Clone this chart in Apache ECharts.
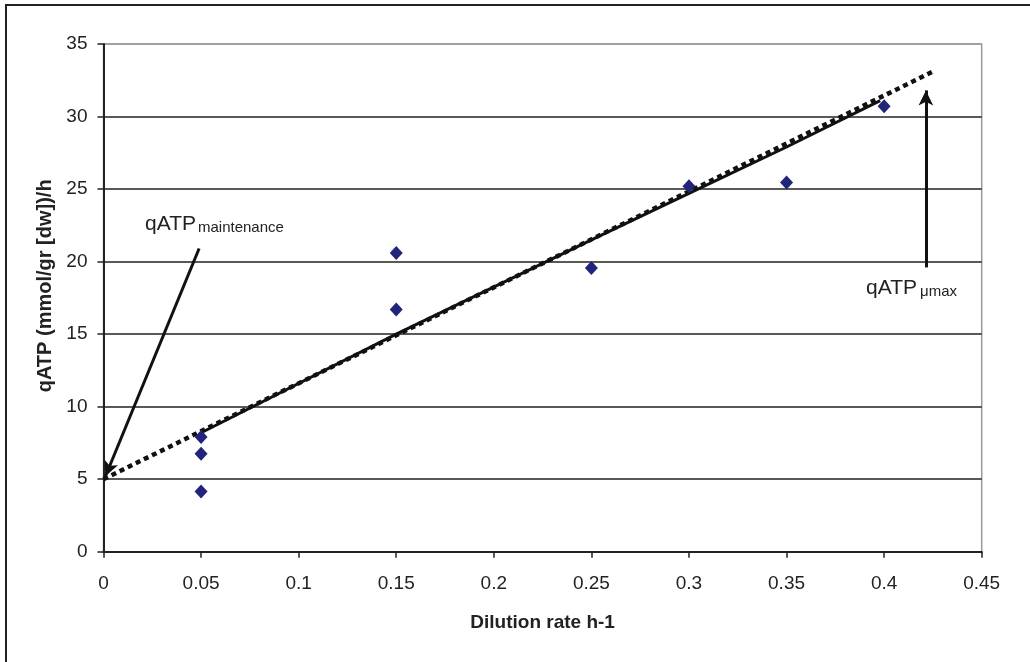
<!DOCTYPE html>
<html>
<head>
<meta charset="utf-8">
<script src="https://cdn.jsdelivr.net/npm/echarts@6/dist/echarts.min.js"></script>
<style>
html,body{margin:0;padding:0;background:#fff;}
#c{width:1030px;height:662px;}
</style>
</head>
<body>
<div id="c"></div>
<script>
// Measured data points (dilution rate h-1, qATP)
const dilutionX = [0.05, 0.05, 0.05, 0.15, 0.15, 0.25, 0.30, 0.35, 0.40];
const qatpY = [7.9, 6.75, 4.15, 20.6, 16.7, 19.55, 25.2, 25.45, 30.7];

// Solid model line
const modelX = [0.05, 0.15, 0.25, 0.30, 0.35, 0.398];
const modelY = [8.2, 15.0, 21.5, 24.7, 27.9, 31.1];

// Dotted extrapolation line
const extrapX = [0, 0.425];
const extrapY = [5.0, 33.1];

// Arrow annotations [start, end]
const arrowMaint = [[0.049, 20.9], [0.001, 5.2]];
const arrowMuMax = [[0.4214, 19.6], [0.4214, 31.8]];

// Axis ticks
const xTicks = [0, 0.05, 0.1, 0.15, 0.2, 0.25, 0.3, 0.35, 0.4, 0.45];
const yTicks = [0, 5, 10, 15, 20, 25, 30, 35];

const chart = echarts.init(document.getElementById('c'));
const font = 'Liberation Sans, Arial, sans-serif';

const gridColors = yTicks.map((v, i) => i === yTicks.length - 1 ? '#9a9a9a' : '#222');

chart.setOption({
  animation: false,
  backgroundColor: '#fff',
  grid: {left: 103.5, right: 48.3, top: 44, bottom: 110.3, show: true, borderColor: '#9a9a9a', borderWidth: 1.5, backgroundColor: 'transparent'},
  xAxis: {
    type: 'value', min: xTicks[0], max: xTicks[xTicks.length-1], interval: 0.05,
    name: 'Dilution rate h-1', nameLocation: 'middle', nameGap: 62,
    nameTextStyle: {fontFamily: font, fontSize: 19, fontWeight: 'bold', color: '#222'},
    axisLine: {show: true, onZero: false, lineStyle: {color: '#222', width: 2}},
    axisTick: {show: true, length: 6, lineStyle: {color: '#222', width: 1.5}},
    axisLabel: {fontFamily: font, fontSize: 19, color: '#222', margin: 23,
      formatter: v => String(parseFloat(v.toFixed(2)))},
    splitLine: {show: false}
  },
  yAxis: {
    type: 'value', min: yTicks[0], max: yTicks[yTicks.length-1], interval: 5,
    name: 'qATP (mmol/gr [dw])/h', nameLocation: 'middle', nameGap: 41,
    nameTextStyle: {fontFamily: font, fontSize: 20, fontWeight: 'bold', color: '#222', padding: [0, 0, 0, 24]},
    axisLine: {show: true, lineStyle: {color: '#222', width: 2}},
    axisTick: {show: true, length: 6, lineStyle: {color: '#222', width: 1.5}},
    axisLabel: {fontFamily: font, fontSize: 19, color: '#222', margin: 16},
    splitLine: {show: true, lineStyle: {color: gridColors, width: 1.5}}
  },
  series: [
    {
      type: 'line', name: 'extrapolation',
      data: extrapX.map((x, i) => [x, extrapY[i]]),
      showSymbol: false, symbol: 'none',
      lineStyle: {color: '#111', width: 4.5, type: [5, 4]},
      z: 3
    },
    {
      type: 'line', name: 'model',
      data: modelX.map((x, i) => [x, modelY[i]]),
      showSymbol: false, symbol: 'none',
      lineStyle: {color: '#111', width: 3},
      z: 4,
      markLine: {
        silent: true, animation: false,
        symbol: ['none', 'arrow'], symbolSize: [11, 15],
        lineStyle: {color: '#111', width: 3, type: 'solid'},
        label: {show: false},
        data: [
          [{coord: arrowMaint[0]}, {coord: arrowMaint[1]}],
          [{coord: arrowMuMax[0]}, {coord: arrowMuMax[1]}]
        ]
      }
    },
    {
      type: 'scatter', name: 'measured',
      data: dilutionX.map((x, i) => [x, qatpY[i]]),
      symbol: 'diamond', symbolSize: [13, 14],
      itemStyle: {color: '#22237a', opacity: 1},
      z: 5
    }
  ],
  graphic: [
    {type: 'rect', shape: {x: 6, y: 5, width: 1200, height: 1000}, style: {fill: 'none', stroke: '#222', lineWidth: 2}, silent: true},
    {type: 'text', left: 145, top: 214, style: {text: 'qATP', fontFamily: font, fontSize: 21, fill: '#222'}},
    {type: 'text', left: 198, top: 220, style: {text: 'maintenance', fontFamily: font, fontSize: 15, fill: '#222'}},
    {type: 'text', left: 866, top: 278, style: {text: 'qATP', fontFamily: font, fontSize: 21, fill: '#222'}},
    {type: 'text', left: 920, top: 284, style: {text: 'μmax', fontFamily: font, fontSize: 15, fill: '#222'}}
  ]
});
</script>
</body>
</html>
